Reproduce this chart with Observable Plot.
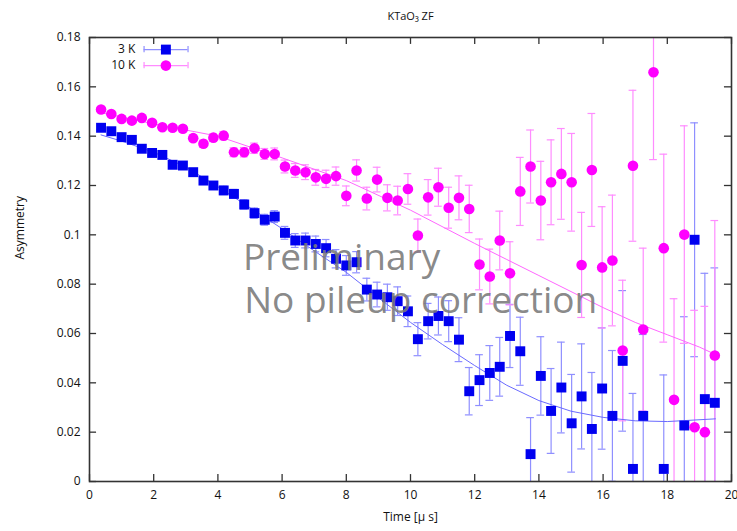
<!DOCTYPE html>
<html><head><meta charset="utf-8">
<script src="https://cdn.jsdelivr.net/npm/d3@7"></script>
<script src="https://cdn.jsdelivr.net/npm/@observablehq/plot@0.6"></script>
<style>
html,body{margin:0;padding:0;background:#fff;}
</style></head><body><div id="chart"></div>
<script>
// ---- data ----
const time = [0.36, 0.68, 1.00, 1.32, 1.63, 1.95, 2.27, 2.59, 2.91, 3.23, 3.55, 3.86, 4.18, 4.50, 4.82, 5.14, 5.46, 5.77, 6.09, 6.41, 6.73, 7.05, 7.37, 7.68, 8.00, 8.32, 8.64, 8.96, 9.28, 9.60, 9.92, 10.23, 10.55, 10.87, 11.19, 11.51, 11.83, 12.15, 12.47, 12.78, 13.10, 13.42, 13.74, 14.06, 14.38, 14.70, 15.02, 15.33, 15.65, 15.97, 16.29, 16.61, 16.93, 17.25, 17.57, 17.89, 18.21, 18.53, 18.85, 19.17, 19.48];
const asym3K = [0.1434, 0.1420, 0.1396, 0.1385, 0.1349, 0.1332, 0.1324, 0.1284, 0.1281, 0.1254, 0.1220, 0.1200, 0.1180, 0.1166, 0.1123, 0.1088, 0.1061, 0.1074, 0.1008, 0.0977, 0.0977, 0.0963, 0.0946, 0.0903, 0.0876, 0.0889, 0.0778, 0.0758, 0.0747, 0.0731, 0.0690, 0.0577, 0.0650, 0.0671, 0.0650, 0.0575, 0.0366, 0.0411, 0.0440, 0.0465, 0.0590, 0.0528, 0.0111, 0.0428, 0.0286, 0.0381, 0.0236, 0.0345, 0.0213, 0.0377, 0.0266, 0.0489, 0.0051, 0.0266, null, 0.0051, null, 0.0227, 0.0980, 0.0334, 0.0319];
const asym10K = [0.1508, 0.1490, 0.1470, 0.1463, 0.1474, 0.1454, 0.1436, 0.1434, 0.1430, 0.1392, 0.1369, 0.1394, 0.1402, 0.1335, 0.1335, 0.1351, 0.1328, 0.1328, 0.1277, 0.1261, 0.1254, 0.1233, 0.1227, 0.1238, 0.1158, 0.1261, 0.1147, 0.1224, 0.1150, 0.1139, 0.1186, 0.0997, 0.1152, 0.1193, 0.1110, 0.1150, 0.1105, 0.0880, 0.0831, 0.0977, 0.0844, 0.1176, 0.1277, 0.1139, 0.1213, 0.1247, 0.1213, 0.0878, 0.1263, 0.0868, 0.0896, 0.0531, 0.1280, 0.0616, 0.1659, 0.0946, 0.0331, 0.1001, 0.0220, 0.0200, 0.0511];
const sigma = [0.0007, 0.00075, 0.0008, 0.00088, 0.00094, 0.0010, 0.0011, 0.00117, 0.00126, 0.00135, 0.00146, 0.00157, 0.00168, 0.0018, 0.0019, 0.0021, 0.0022, 0.0024, 0.0026, 0.0028, 0.0030, 0.0032, 0.0035, 0.0037, 0.0040, 0.0043, 0.0046, 0.0050, 0.0053, 0.0058, 0.0062, 0.0067, 0.0072, 0.0077, 0.0083, 0.0089, 0.0096, 0.0103, 0.0111, 0.0119, 0.0128, 0.0138, 0.0148, 0.0159, 0.0172, 0.0184, 0.0198, 0.0213, 0.0229, 0.0246, 0.0265, 0.0285, 0.0306, 0.0330, 0.0354, 0.0381, 0.0410, 0.0441, 0.0474, 0.0510, 0.0547];
const fitTime3K = [0.36, 1, 2, 3, 4, 5, 6, 7, 8, 9, 10, 11, 12, 13, 14, 15, 16, 17, 18, 19.5];
const fit3K = [0.1405, 0.1380, 0.1335, 0.1275, 0.1195, 0.1110, 0.1025, 0.0935, 0.0848, 0.0745, 0.0645, 0.0555, 0.0470, 0.0390, 0.0328, 0.0285, 0.0260, 0.0246, 0.0243, 0.0254];
const fitTime10K = [0.36, 2, 4, 6, 8, 10, 12, 13, 14, 15, 16, 17, 18, 19, 19.5];
const fit10K = [0.1495, 0.1450, 0.1400, 0.1312, 0.1220, 0.1100, 0.0965, 0.0900, 0.0835, 0.0770, 0.0705, 0.0645, 0.0595, 0.0545, 0.0515];
const xTicks = [0, 2, 4, 6, 8, 10, 12, 14, 16, 18, 20];
const yTicks = [0, 0.02, 0.04, 0.06, 0.08, 0.1, 0.12, 0.14, 0.16, 0.18];
const seriesNames = ["3 K", "10 K"];
const titleText = "KTaO₃ ZF";
const xLabel = "Time [μ s]";
const yLabel = "Asymmetry";
const watermark = ["Preliminary", "No pileup correction"];

// ---- styling / layout ----
const blue = "#0000f0", blueBar = "#8f8fff", blueFit = "#6a6aff";
const mag = "#ff00ff", magBar = "#ff8cff", magFit = "#ff66ff";
const capHalf = 0.12;      // µs
const tickLenX = 0.22;     // µs
const tickLenY = 0.0028;   // asymmetry
const font = "'Open Sans', 'DejaVu Sans', sans-serif";

const rows = (vals) => time.map((t, i) => ({t, a: vals[i], e: sigma[i]})).filter(d => d.a != null);
const r3 = rows(asym3K), r10 = rows(asym10K);
const f3 = fitTime3K.map((t, i) => ({t, a: fit3K[i]}));
const f10 = fitTime10K.map((t, i) => ({t, a: fit10K[i]}));

const legend = [
  {name: seriesNames[0], y: 0.1751, c: blue, cb: blueBar},
  {name: seriesNames[1], y: 0.1686, c: mag, cb: magBar}
];
const legX = {label: 1.43, x1: 1.70, x2: 3.07, m: 2.38};

function errMarks(data, c) {
  return [
    Plot.ruleX(data, {x: "t", y1: d => d.a - d.e, y2: d => d.a + d.e, stroke: c, strokeWidth: 1.2, clip: true}),
    Plot.ruleY(data, {y: d => d.a + d.e, x1: d => d.t - capHalf, x2: d => d.t + capHalf, stroke: c, strokeWidth: 1.2, clip: true}),
    Plot.ruleY(data, {y: d => d.a - d.e, x1: d => d.t - capHalf, x2: d => d.t + capHalf, stroke: c, strokeWidth: 1.2, clip: true})
  ];
}

const chart = Plot.plot({
  width: 737,
  height: 531,
  marginLeft: 89,
  marginRight: 6,
  marginTop: 37,
  marginBottom: 50,
  style: {fontFamily: font, fontSize: "12px", background: "#fff", color: "#111"},
  x: {domain: [0, 20]},
  y: {domain: [0, 0.18]},
  marks: [
    ...errMarks(r3, blueBar),
    ...errMarks(r10, magBar),
    Plot.line(f3, {x: "t", y: "a", stroke: blueFit, strokeWidth: 1, clip: true}),
    Plot.line(f10, {x: "t", y: "a", stroke: magFit, strokeWidth: 1, clip: true}),
    Plot.dot(r3, {x: "t", y: "a", symbol: "square", r: 5.6, fill: blue, clip: true}),
    Plot.dot(r10, {x: "t", y: "a", symbol: "circle", r: 5.3, fill: mag, clip: true}),
    // legend
    Plot.text(legend, {x: legX.label, y: "y", text: "name", textAnchor: "end", fontSize: 12}),
    Plot.ruleY(legend, {y: "y", x1: legX.x1, x2: legX.x2, stroke: "cb", strokeWidth: 1.2}),
    Plot.ruleX(legend, {x: legX.x1, y1: d => d.y - 0.0013, y2: d => d.y + 0.0013, stroke: "cb", strokeWidth: 1.2}),
    Plot.ruleX(legend, {x: legX.x2, y1: d => d.y - 0.0013, y2: d => d.y + 0.0013, stroke: "cb", strokeWidth: 1.2}),
    Plot.dot([legend[0]], {x: legX.m, y: "y", symbol: "square", r: 5.6, fill: blue}),
    Plot.dot([legend[1]], {x: legX.m, y: "y", symbol: "circle", r: 5.3, fill: mag}),
    // watermark
    Plot.text([watermark[0]], {x: 4.78, y: 0.0905, textAnchor: "start", fontSize: 37, fill: "#7a7a7a", fillOpacity: 0.9, fontFamily: font}),
    Plot.text([watermark[1]], {x: 4.82, y: 0.0733, textAnchor: "start", fontSize: 37, fill: "#7a7a7a", fillOpacity: 0.9, fontFamily: font}),
    // frame and inward ticks
    Plot.frame({stroke: "#333", strokeWidth: 1.6}),
    Plot.ruleX(xTicks, {x: d => d, y1: 0, y2: tickLenY, stroke: "#333", strokeWidth: 1.3}),
    Plot.ruleX(xTicks, {x: d => d, y1: 0.18, y2: 0.18 - tickLenY, stroke: "#333", strokeWidth: 1.3}),
    Plot.ruleY(yTicks, {y: d => d, x1: 0, x2: tickLenX, stroke: "#333", strokeWidth: 1.3}),
    Plot.ruleY(yTicks, {y: d => d, x1: 20, x2: 20 - tickLenX, stroke: "#333", strokeWidth: 1.3}),
    Plot.axisX(xTicks, {tickSize: 0, tickPadding: 9, label: null, tickFormat: d => String(d)}),
    Plot.axisY(yTicks, {tickSize: 0, tickPadding: 9, label: null, tickFormat: d => String(+d.toFixed(2))}),
    // titles
    Plot.text([titleText], {frameAnchor: "top", dy: -25, fontSize: 11}),
    Plot.text([xLabel], {frameAnchor: "bottom", dy: 39, fontSize: 12}),
    Plot.text([yLabel], {frameAnchor: "left", dx: -69, rotate: -90, fontSize: 12})
  ]
});
document.getElementById("chart").appendChild(chart);
</script></body></html>
